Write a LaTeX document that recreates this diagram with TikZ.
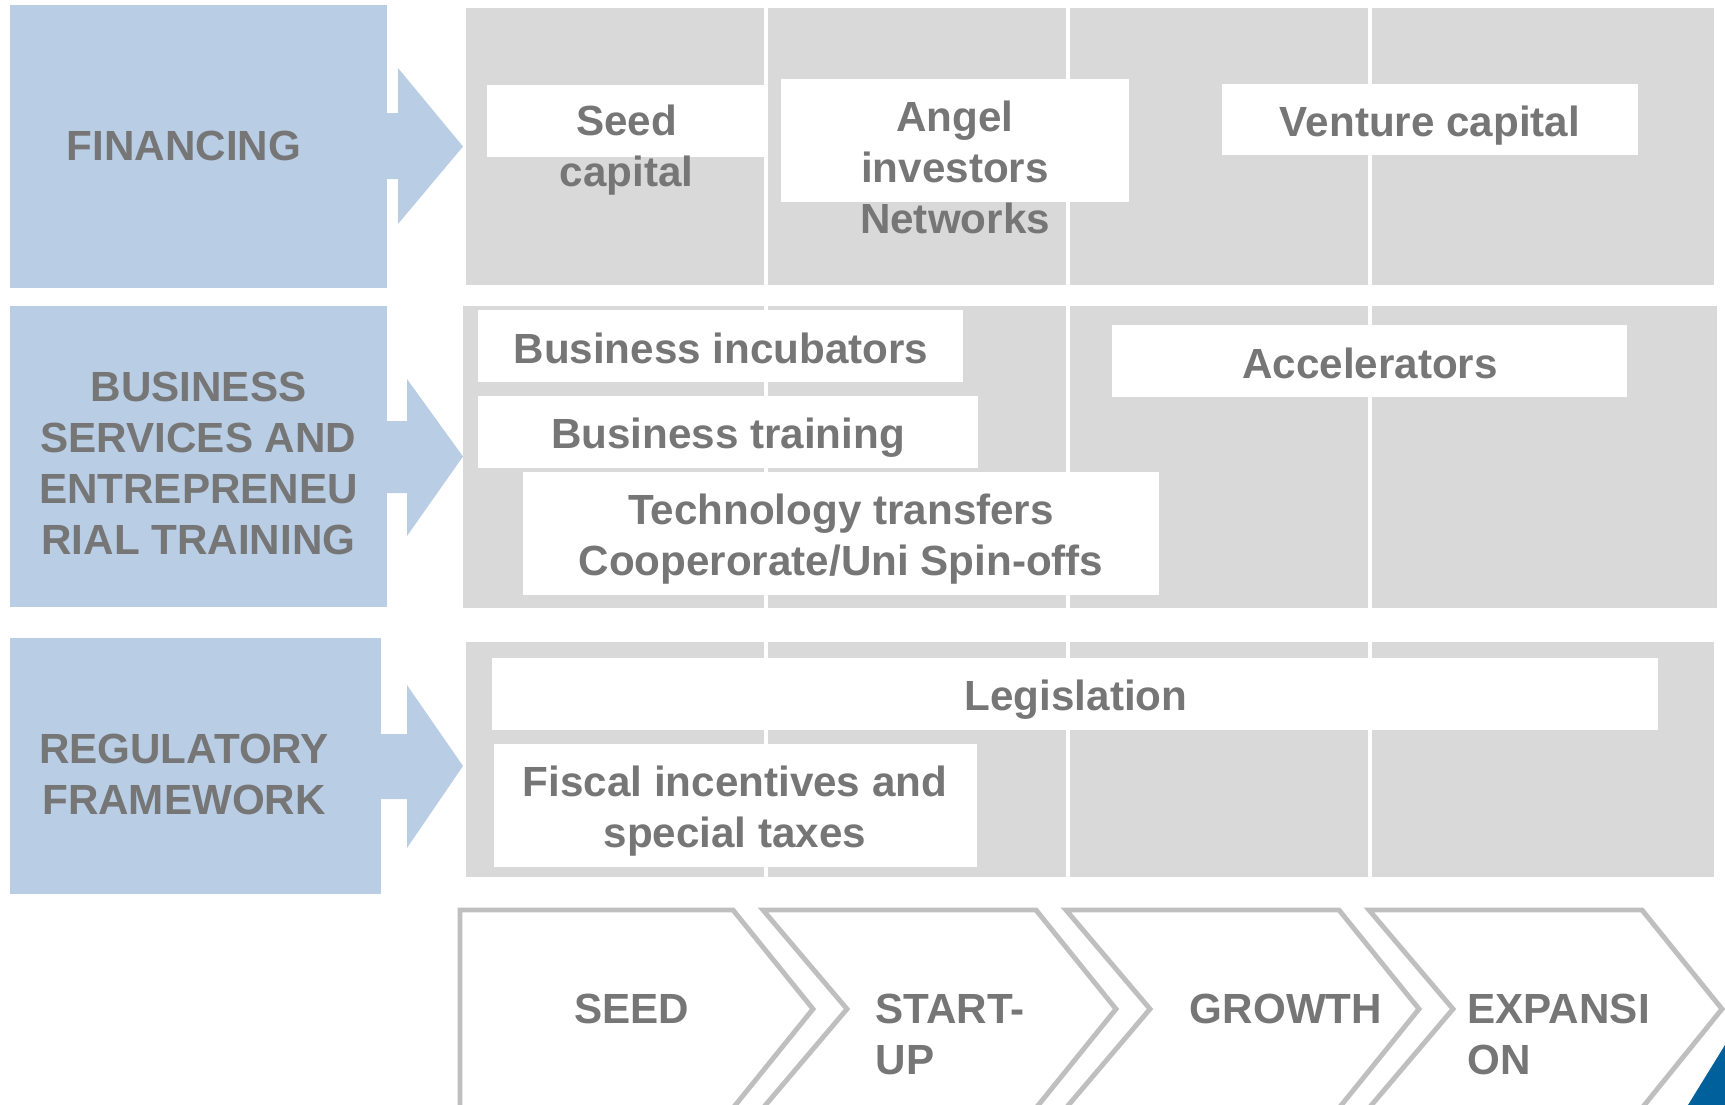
\documentclass[tikz,border=0pt]{standalone}
\usepackage{fontspec}
\setmainfont{Liberation Sans}
\usepackage{tikz}
\usepackage{xcolor}
\usetikzlibrary{positioning,calc}
\definecolor{paleblue}{RGB}{185,205,229}
\definecolor{panelgray}{RGB}{217,217,217}
\definecolor{textgray}{RGB}{118,118,118}
\definecolor{stagegray}{RGB}{191,191,191}
\definecolor{deepblue}{RGB}{0,96,156}

\begin{document}
\begin{tikzpicture}[
    lbl/.style={text=textgray, font=\fontsize{12}{14.5}\selectfont\bfseries, align=center, inner sep=0pt},
    stage/.style={draw=stagegray, line width=1.4pt, fill=white, line join=miter}]
        \useasboundingbox (0,0) rectangle (17.25,-11.05);
        % left blocks with their arrows
        \fill[paleblue] (0.10,-0.05) rectangle (3.87,-2.88);
        \fill[paleblue] (3.87,-1.13) -- ++(0.11,0) -- ++(0,0.45) -- (4.63,-1.465) -- (3.98,-2.24) -- ++(0,0.45) -- (3.87,-1.79) -- cycle;
        \fill[paleblue] (0.10,-3.06) rectangle (3.87,-6.07);
        \fill[paleblue] (3.87,-4.21) -- ++(0.20,0) -- ++(0,0.42) -- (4.63,-4.565) -- (4.07,-5.36) -- ++(0,0.43) -- (3.87,-4.93) -- cycle;
        \fill[paleblue] (0.10,-6.38) rectangle (3.81,-8.94);
        \fill[paleblue] (3.81,-7.34) -- ++(0.26,0) -- ++(0,0.49) -- (4.63,-7.66) -- (4.07,-8.48) -- ++(0,0.49) -- (3.81,-7.99) -- cycle;
        \node[lbl] (fin) at (1.84,-1.46) {FINANCING};
        \node[lbl] (bus) at (1.985,-4.635) {BUSINESS\\SERVICES AND\\ENTREPRENEU\\RIAL TRAINING};
        \node[lbl] (reg) at (1.84,-7.745) {REGULATORY\\FRAMEWORK};
        % gray panels and column rules
        \fill[panelgray] (4.66,-0.08) rectangle (17.14,-2.85);
        \fill[panelgray] (4.63,-3.06) rectangle (17.17,-6.08);
        \fill[panelgray] (4.66,-6.42) rectangle (17.14,-8.77);
        \foreach \x in {7.66,10.68,13.70}
          \draw[white, line width=0.9pt] (\x,-0.08) -- (\x,-8.77);
        % white tags
        \fill[white] (4.87,-0.85) rectangle (7.66,-1.57);
        \fill[white] (7.81,-0.79) rectangle (11.29,-2.02);
        \fill[white] (12.22,-0.84) rectangle (16.38,-1.55);
        \fill[white] (4.78,-3.10) rectangle (9.63,-3.82);
        \fill[white] (11.12,-3.25) rectangle (16.27,-3.97);
        \fill[white] (4.78,-3.96) rectangle (9.78,-4.68);
        \fill[white] (5.23,-4.72) rectangle (11.59,-5.95);
        \fill[white] (4.92,-6.58) rectangle (16.58,-7.30);
        \fill[white] (4.94,-7.44) rectangle (9.77,-8.67);
        \node[lbl] (seedcap) at (6.265,-1.50) {Seed\\capital};
        \node[lbl] (angel) at (9.55,-1.675) {Angel\\investors\\Networks};
        \node[lbl] (venture) at (14.30,-1.255) {Venture capital};
        \node[lbl] (incub) at (7.21,-3.48) {Business incubators};
        \node[lbl] (accel) at (13.70,-3.63) {Accelerators};
        \node[lbl] (training) at (7.28,-4.375) {Business training};
        \node[lbl] (techtr) at (8.41,-5.39) {Technology transfers\\Cooperorate/Uni Spin-offs};
        \node[lbl] (legis) at (10.76,-6.995) {Legislation};
        \node[lbl] (fiscal) at (7.35,-8.11) {Fiscal incentives and\\special taxes};
        % stage chevrons
        \foreach \l/\n in {4.60/0, 7.63/0.84, 10.66/0.84, 13.69/0.84}
          \draw[stage] (\l,-9.10) -- ++(2.73,0) -- ++(0.80,-0.99) -- ++(-0.80,-0.99)
            -- (\l,-11.08) -- ++(\n,0.99) -- cycle;
        \node[lbl] (seed) at (6.315,-10.09) {SEED};
        \node[lbl, align=left, anchor=west] (startup) at (8.75,-10.34) {START-\\UP};
        \node[lbl] (growth) at (12.86,-10.09) {GROWTH};
        \node[lbl, align=left, anchor=west] (expansion) at (14.67,-10.34) {EXPANSI\\ON};
        \fill[deepblue] (16.88,-11.05) -- (17.25,-10.45) -- (17.25,-11.05) -- cycle;
      \end{tikzpicture}
\end{document}
